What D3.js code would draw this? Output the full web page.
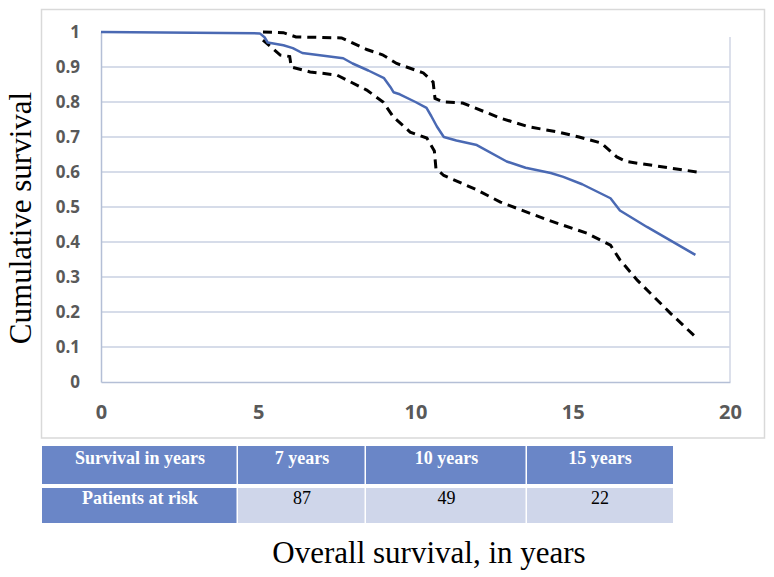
<!DOCTYPE html>
<html><head><meta charset="utf-8">
<script src="https://cdn.jsdelivr.net/npm/d3@7"></script>
<style>body{margin:0;background:#fff}svg{display:block}</style>
</head><body>
<script>
// ---- data ----
const xTicks = [0, 5, 10, 15, 20];
const yTicks = [0, 0.1, 0.2, 0.3, 0.4, 0.5, 0.6, 0.7, 0.8, 0.9, 1];
const survTime = [0, 5.05, 5.2, 5.3, 5.8, 6.1, 6.4, 7.7, 8.0, 8.5, 9.0, 9.2, 9.3, 9.5, 10.0, 10.35, 10.5, 10.68, 10.9, 11.3, 11.95, 12.9, 13.5, 14.3, 14.7, 15.3, 16.2, 16.5, 17.36, 18.9];
const survValue = [1, 0.996, 0.985, 0.97, 0.962, 0.954, 0.94, 0.925, 0.91, 0.89, 0.868, 0.843, 0.828, 0.822, 0.80, 0.783, 0.76, 0.73, 0.70, 0.69, 0.677, 0.63, 0.612, 0.597, 0.586, 0.565, 0.525, 0.49, 0.443, 0.363];
const upperTime = [5.15, 5.8, 6.2, 7.65, 8.45, 8.95, 9.4, 10.25, 10.56, 10.62, 10.9, 11.5, 12.7, 13.6, 14.5, 15.2, 15.9, 16.4, 16.7, 18.95];
const upperValue = [1.0, 0.998, 0.986, 0.983, 0.95, 0.935, 0.91, 0.883, 0.857, 0.81, 0.80, 0.797, 0.754, 0.729, 0.715, 0.70, 0.683, 0.643, 0.63, 0.60];
const lowerTime = [5.15, 5.7, 6.0, 6.05, 6.65, 7.5, 8.45, 8.97, 9.3, 9.83, 10.36, 10.6, 10.65, 10.9, 11.95, 12.7, 14.2, 15.45, 16.2, 16.5, 17.05, 18.1, 18.9];
const lowerValue = [0.977, 0.934, 0.93, 0.90, 0.886, 0.877, 0.834, 0.80, 0.757, 0.714, 0.697, 0.66, 0.61, 0.59, 0.549, 0.514, 0.463, 0.425, 0.391, 0.349, 0.291, 0.197, 0.129];
const tableHeader = ["Survival in years", "7 years", "10 years", "15 years"];
const tableRow = ["Patients at risk", "87", "49", "22"];
const yLabel = "Cumulative survival";
const xLabel = "Overall survival, in years";

// ---- layout ----
const W = 774, H = 577;
const svg = d3.select("body").append("svg").attr("width", W).attr("height", H);
const x = d3.scaleLinear().domain([0, 20]).range([101, 730]);
const y = d3.scaleLinear().domain([0, 1]).range([382, 32]);

// outer chart frame
svg.append("rect").attr("x", 41.5).attr("y", 9.5).attr("width", 723).attr("height", 428.5)
  .attr("fill", "#fff").attr("stroke", "#d9d9d9").attr("stroke-width", 1.5);

// gridlines
svg.append("g").selectAll("line").data(yTicks.filter(d => d > 0 && d < 1)).join("line")
  .attr("x1", x(0)).attr("x2", x(20)).attr("y1", d => y(d)).attr("y2", d => y(d))
  .attr("stroke", "#c9d1e2").attr("stroke-width", 1.5);
// right border of plot
svg.append("line").attr("x1", x(20)).attr("x2", x(20)).attr("y1", 37).attr("y2", y(0))
  .attr("stroke", "#d0d6e4").attr("stroke-width", 1.5);

// axes
const yAxis = svg.append("g").attr("transform", `translate(${x(0)},0)`)
  .call(d3.axisLeft(y).tickValues(yTicks).tickSize(0).tickPadding(21).tickFormat(d => d3.format("")(+d.toFixed(1))));
const xAxis = svg.append("g").attr("transform", `translate(0,${y(0)})`)
  .call(d3.axisBottom(x).tickValues(xTicks).tickSize(0).tickPadding(23));
[yAxis, xAxis].forEach(g => {
  g.select(".domain").attr("stroke", "#b4bfd6").attr("stroke-width", 1.5);
  g.selectAll("text").attr("font-family", "'Open Sans', sans-serif").attr("font-weight", "bold")
    .attr("fill", "#595959");
});
yAxis.selectAll("text").attr("font-size", 17);
xAxis.selectAll("text").attr("font-size", 20);

// lines
const line = d3.line().x(d => x(d[0])).y(d => y(d[1]));
const zip = (a, b) => a.map((v, i) => [v, b[i]]);
svg.append("path").datum(zip(upperTime, upperValue)).attr("d", line)
  .attr("fill", "none").attr("stroke", "#000").attr("stroke-width", 3).attr("stroke-dasharray", "9,6");
svg.append("path").datum(zip(lowerTime, lowerValue)).attr("d", line)
  .attr("fill", "none").attr("stroke", "#000").attr("stroke-width", 3).attr("stroke-dasharray", "9,6");
svg.append("path").datum(zip(survTime, survValue)).attr("d", line)
  .attr("fill", "none").attr("stroke", "#4a69b3").attr("stroke-width", 2.5).attr("stroke-linejoin", "round");

// y label
svg.append("text").attr("transform", "translate(31,218) rotate(-90)").attr("text-anchor", "middle")
  .attr("font-family", "'Liberation Serif', 'Times New Roman', serif").attr("font-size", 31).attr("fill", "#000")
  .text(yLabel);

// table
const colX = [42, 238, 366, 527, 673];
const rows = [{top: 446, bottom: 484, base: 464, cells: tableHeader, header: true},
              {top: 488, bottom: 523, base: 504, cells: tableRow, header: false}];
const tg = svg.append("g");
rows.forEach(r => {
  r.cells.forEach((c, i) => {
    const dark = r.header || i === 0;
    tg.append("rect").attr("x", colX[i]).attr("y", r.top)
      .attr("width", colX[i + 1] - colX[i] - (i < 3 ? 1.5 : 0)).attr("height", r.bottom - r.top)
      .attr("fill", dark ? "#6a86c7" : "#cfd6ea");
    tg.append("text").attr("x", (colX[i] + colX[i + 1]) / 2).attr("y", r.base)
      .attr("text-anchor", "middle")
      .attr("font-family", "'Liberation Serif', 'Times New Roman', serif")
      .attr("font-size", 18).attr("font-weight", dark ? "bold" : "normal")
      .attr("fill", dark ? "#fff" : "#000").text(c);
  });
});

// x label
svg.append("text").attr("x", 429).attr("y", 563).attr("text-anchor", "middle")
  .attr("font-family", "'Liberation Serif', 'Times New Roman', serif").attr("font-size", 31).attr("fill", "#000")
  .text(xLabel);
</script>
</body></html>
